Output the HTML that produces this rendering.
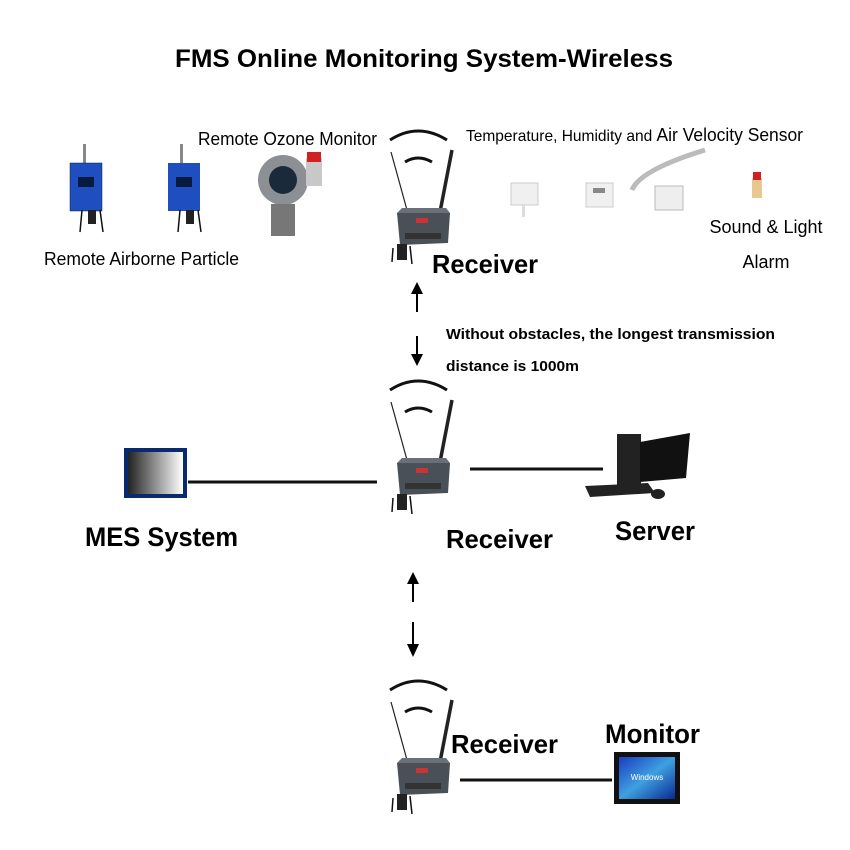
<!DOCTYPE html>
<html><head><style>
body{margin:0;background:#fff;}
svg{display:block;font-family:"Liberation Sans",sans-serif;}
.b{font-weight:bold;}
</style></head><body>
<svg width="850" height="850" viewBox="0 0 850 850">
<defs>
<linearGradient id="g1" x1="0" y1="0" x2="1" y2="0"><stop offset="0" stop-color="#222"/><stop offset="1" stop-color="#fff"/></linearGradient>
<linearGradient id="g2" x1="0" y1="0" x2="1" y2="1"><stop offset="0" stop-color="#1a3cc0"/><stop offset="0.5" stop-color="#3fa0e0"/><stop offset="1" stop-color="#0a2a90"/></linearGradient>
<g id="rx">
<path d="M390 140 Q418 122 447 140" fill="none" stroke="#111" stroke-width="3"/>
<path d="M405 162 Q418 154 432 162" fill="none" stroke="#111" stroke-width="3"/>
<line x1="391" y1="152" x2="407" y2="210" stroke="#222" stroke-width="1.2"/>
<line x1="452" y1="150" x2="440" y2="212" stroke="#222" stroke-width="3.5"/>
<polygon points="397,213 450,213 448,243 400,245" fill="#4a5058"/>
<polygon points="397,213 450,213 446,208 402,208" fill="#6a7078"/>
<rect x="405" y="233" width="36" height="6" fill="#333"/>
<rect x="416" y="218" width="12" height="5" fill="#c33"/>
<rect x="397" y="244" width="10" height="16" fill="#222"/>
<path d="M393 248 L392 262 M410 246 L412 264" stroke="#111" stroke-width="1.5"/>
</g>
</defs>
<text x="175" y="67" textLength="498" lengthAdjust="spacingAndGlyphs" class="b" font-size="25">FMS Online Monitoring System-Wireless</text>

<g>
<rect x="83" y="144" width="3" height="20" fill="#888"/>
<rect x="70" y="163" width="32" height="48" fill="#1f4ec0" stroke="#123" stroke-width="0.5"/>
<rect x="78" y="177" width="16" height="10" fill="#071a40"/>
<rect x="88" y="210" width="8" height="14" fill="#222"/>
<path d="M82 210 L80 232 M100 210 L103 232" stroke="#111" stroke-width="1.5"/>
<rect x="180" y="144" width="3" height="20" fill="#888"/>
<rect x="168" y="163" width="32" height="48" fill="#1f4ec0"/>
<rect x="176" y="177" width="16" height="10" fill="#071a40"/>
<rect x="186" y="210" width="8" height="14" fill="#222"/>
<path d="M180 210 L178 232 M198 210 L201 232" stroke="#111" stroke-width="1.5"/>
<circle cx="283" cy="180" r="25" fill="#8c9094"/>
<circle cx="283" cy="180" r="14" fill="#1a2a3a"/>
<rect x="271" y="204" width="24" height="32" fill="#777"/>
<rect x="306" y="158" width="16" height="28" fill="#c8c8c8"/>
<rect x="307" y="152" width="14" height="10" fill="#d02020"/>
</g>
<text x="198" y="145" textLength="179" lengthAdjust="spacingAndGlyphs" font-size="18">Remote Ozone Monitor</text>
<text x="44" y="265" textLength="195" lengthAdjust="spacingAndGlyphs" font-size="18">Remote Airborne Particle</text>
<use href="#rx"/>
<text x="432" y="273" textLength="106" lengthAdjust="spacingAndGlyphs" class="b" font-size="26">Receiver</text>
<text x="466" y="141" textLength="337" lengthAdjust="spacingAndGlyphs" font-size="16">Temperature, Humidity and <tspan font-size="18">Air Velocity Sensor</tspan></text>
<rect x="511" y="183" width="27" height="22" fill="#f0f0f0" stroke="#ccc"/>
<rect x="522" y="205" width="3" height="12" fill="#ddd"/>
<rect x="586" y="183" width="27" height="24" fill="#f0f0f0" stroke="#ccc"/>
<rect x="593" y="188" width="12" height="5" fill="#888"/>
<path d="M632 190 Q640 170 705 150" stroke="#bbb" stroke-width="5" fill="none"/>
<rect x="655" y="186" width="28" height="24" fill="#eee" stroke="#bbb"/>
<rect x="752" y="178" width="10" height="20" fill="#e8c890"/>
<rect x="753" y="172" width="8" height="8" fill="#d02020"/>
<text x="766" y="233" text-anchor="middle" font-size="18">Sound &amp; Light</text>
<text x="766" y="268" text-anchor="middle" font-size="18">Alarm</text>

<line x1="417" y1="292" x2="417" y2="312" stroke="#000" stroke-width="2"/>
<polygon points="411,294 423,294 417,282" fill="#000"/>
<line x1="417" y1="336" x2="417" y2="356" stroke="#000" stroke-width="2"/>
<polygon points="411,354 423,354 417,366" fill="#000"/>
<text x="446" y="339" textLength="329" lengthAdjust="spacingAndGlyphs" class="b" font-size="15">Without obstacles, the longest transmission</text>
<text x="446" y="371" textLength="133" lengthAdjust="spacingAndGlyphs" class="b" font-size="15">distance is 1000m</text>

<use href="#rx" transform="translate(0,250)"/>
<text x="446" y="548" textLength="107" lengthAdjust="spacingAndGlyphs" class="b" font-size="26">Receiver</text>
<rect x="124" y="448" width="63" height="50" fill="#0a2a70"/>
<rect x="128" y="452" width="55" height="42" fill="url(#g1)"/>
<line x1="188" y1="482" x2="377" y2="482" stroke="#111" stroke-width="3"/>
<text x="85" y="546" textLength="153" lengthAdjust="spacingAndGlyphs" class="b" font-size="27">MES System</text>
<line x1="470" y1="469" x2="603" y2="469" stroke="#111" stroke-width="3"/>
<rect x="617" y="434" width="24" height="52" fill="#222"/>
<polygon points="640,442 690,433 686,478 640,482" fill="#111"/>
<polygon points="585,486 648,483 655,493 590,497" fill="#222"/>
<ellipse cx="658" cy="494" rx="7" ry="5" fill="#222"/>
<text x="615" y="540" textLength="80" lengthAdjust="spacingAndGlyphs" class="b" font-size="27">Server</text>
<line x1="413" y1="582" x2="413" y2="602" stroke="#000" stroke-width="2"/>
<polygon points="407,584 419,584 413,572" fill="#000"/>
<line x1="413" y1="622" x2="413" y2="646" stroke="#000" stroke-width="2"/>
<polygon points="407,644 419,644 413,657" fill="#000"/>

<use href="#rx" transform="translate(0,550)"/>
<text x="451" y="753" textLength="107" lengthAdjust="spacingAndGlyphs" class="b" font-size="26">Receiver</text>
<line x1="460" y1="780" x2="612" y2="780" stroke="#111" stroke-width="3"/>
<rect x="614" y="752" width="66" height="52" fill="#111"/>
<rect x="619" y="757" width="56" height="42" fill="url(#g2)"/>
<text x="647" y="780" text-anchor="middle" fill="#fff" font-size="8">Windows</text>
<text x="605" y="743" textLength="95" lengthAdjust="spacingAndGlyphs" class="b" font-size="27">Monitor</text>
</svg>
</body></html>
